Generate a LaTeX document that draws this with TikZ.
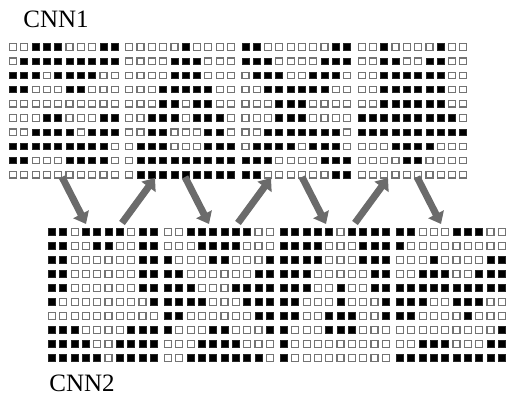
\documentclass[tikz,border=0pt]{standalone}
\usepackage{fontspec}
\setmainfont{Liberation Serif}
\usepackage{xstring}
\usetikzlibrary{arrows.meta}

% one string per row, 1 = filled cell
\def\gridTa{0011100011,0111111111,1110111100,1100011000,0000000000,0001100011,0011110111,1111111110,1100011110,0000000000}
\def\gridTb{0000010000,0000111000,0000111000,0001111100,0001101100,0011101110,0011000110,0111000111,0111111111,0111111111}
\def\gridTc{1100000011,1110000111,0111001110,0011111100,0001110000,0001110000,0011111110,0111101110,1110000111,1100000011}
\def\gridTd{0010000100,0011001100,0011111100,0011111100,0011111100,1111111110,1111111111,0001111000,0000110000,0000000000}
\def\gridBa{1101111011,1100110011,1100000011,1100000011,1100000011,1000000001,0000000000,1110000111,1111001111,1111101111}
\def\gridBb{0011111100,0001111000,1000110001,1100000011,1110001111,1111000111,1100000011,1000110001,0001111000,0011111110}
\def\gridBc{1111101111,1111000111,1111000111,1110000011,1110010011,1100010001,1100111001,1000111000,1000000000,1000000000}
\def\gridBd{1100011100,1000000000,0001000011,0011100111,1111111111,1110011100,1100001000,0000000001,0011100011,1111111111}

\tikzset{
    cellon/.style={fill=black, draw=black!85, line width=0.8pt},
    celloff/.style={fill=white, draw=black!55, line width=1.2pt},
    bigarrow/.style={draw=black!58, line width=7pt,
        -{Triangle[length=11pt,width=17pt]}},
    caption/.style={font=\fontsize{25}{25}\selectfont}
}

\begin{document}
\begin{tikzpicture}[x=1pt, y=-1pt]
    \useasboundingbox (0,0) rectangle (506,396);

    % Eight 10x10 maps: four on top (CNN1), four below (CNN2).
    \def\cw{3.5}\def\ch{3.2}
    \foreach \gx/\gy/\rows in {
        13/47/\gridTa, 129.2/47/\gridTb, 245.4/47/\gridTc, 361.6/47/\gridTd,
        52/232/\gridBa, 168/232/\gridBb, 284/232/\gridBc, 400/232/\gridBd%
    }{%
        \edef\rowlist{\rows}
        \foreach \r [count=\i] in \rowlist {
            \foreach \j in {1,...,10} {
                \StrChar{\r}{\j}[\c]
                \pgfmathsetmacro{\cx}{\gx + (\j-1)*11.3}
                \pgfmathsetmacro{\cy}{\gy + (\i-1)*(\gy < 100 ? 14.2 : 14)}
                \ifnum\c=1 \def\st{cellon}\else\def\st{celloff}\fi
                \draw[\st] (\cx-\cw, \cy-\ch) rectangle (\cx+\cw, \cy+\ch);
            }
        }
    }

    \node[caption] (cnn1) at (56,19) {CNN1};
    \node[caption] (cnn2) at (82,383) {CNN2};

    % Arrows between the two rows, alternating down and up.
    \foreach \n/\x in {1/62, 2/185, 3/302, 4/417} {
        \coordinate (dn\n-s) at (\x,177);
        \coordinate (dn\n-e) at (\x+24,224);
    }
    \foreach \n/\x in {1/122, 2/238, 3/355} {
        \coordinate (up\n-s) at (\x,223);
        \coordinate (up\n-e) at (\x+33,178);
    }
    \foreach \n in {1,...,4}
        \draw[bigarrow] (dn\n-s) -- (dn\n-e);
    \foreach \n in {1,...,3}
        \draw[bigarrow] (up\n-s) -- (up\n-e);
\end{tikzpicture}
\end{document}
